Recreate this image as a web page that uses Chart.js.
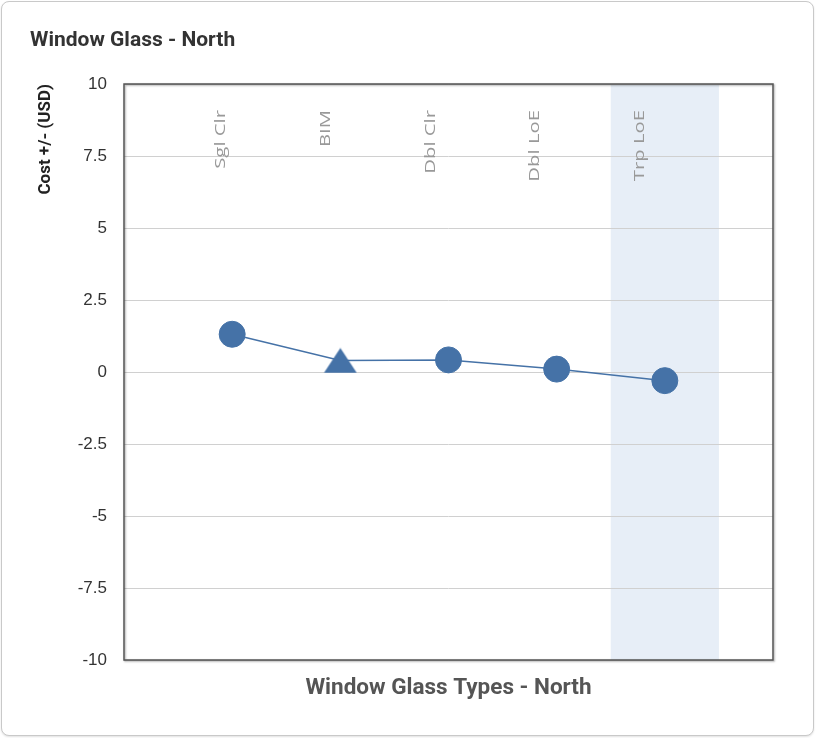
<!DOCTYPE html>
<html>
<head>
<meta charset="utf-8">
<title>Window Glass - North</title>
<script src="https://cdn.jsdelivr.net/npm/chart.js@4.4.1/dist/chart.umd.min.js"></script>
<style>
  html, body { margin: 0; padding: 0; background: #ffffff; }
  #wrap { position: relative; width: 816px; height: 738px; }
  #card {
    position: absolute; left: 1px; top: 1px; width: 813px; height: 735px;
    box-sizing: border-box; border: 1px solid #c9c9c9; border-radius: 8px;
    box-shadow: 0 1px 2px rgba(0,0,0,0.12); background: #fff;
  }
  #chart { position: absolute; left: 0; top: 0; }
</style>
</head>
<body>
<div id="wrap">
  <div id="card"></div>
  <canvas id="chart" width="816" height="738"></canvas>
</div>
<script>
// Glass options and their cost difference (USD)
const categories = ['Sgl Clr', 'BIM', 'Dbl Clr', 'Dbl LoE', 'Trp LoE'];
const costValues = [1.31, 0.40, 0.42, 0.10, -0.30];
const markerShapes = ['circle', 'triangle', 'circle', 'circle', 'circle'];
const yTickValues = [10, 7.5, 5, 2.5, 0, -2.5, -5, -7.5, -10];
const highlightedCategory = 'Trp LoE';

const SERIES_COLOR = '#4572A7';

// triangle marker drawn once and reused as a point style
function makeTriangle(w, h, color) {
  const c = document.createElement('canvas');
  c.width = w; c.height = h;
  const g = c.getContext('2d');
  g.fillStyle = color;
  g.beginPath();
  g.moveTo(w / 2, 0.5);
  g.lineTo(w - 0.5, h - 0.5);
  g.lineTo(0.5, h - 0.5);
  g.closePath();
  g.fill();
  return c;
}
const triangleMarker = makeTriangle(34, 26, SERIES_COLOR);

// shaded column behind the highlighted category
const highlightBand = {
  id: 'highlightBand',
  beforeDraw(chart) {
    const idx = categories.indexOf(highlightedCategory);
    if (idx < 0) return;
    const x = chart.scales.x, area = chart.chartArea, ctx = chart.ctx;
    const x0 = x.getPixelForValue(idx + 0.5);
    const x1 = x.getPixelForValue(idx + 1.5);
    ctx.save();
    ctx.fillStyle = '#e7eef7';
    ctx.fillRect(x0, area.top, x1 - x0, area.bottom - area.top);
    ctx.restore();
  }
};

// frame round the plot area plus the vertical category names inside it
const plotFrame = {
  id: 'plotFrame',
  afterDatasetsDraw(chart) {
    const ctx = chart.ctx, a = chart.chartArea;
    ctx.save();
    ctx.shadowColor = 'rgba(0,0,0,0.35)';
    ctx.shadowOffsetX = 1;
    ctx.shadowOffsetY = 1;
    ctx.shadowBlur = 2;
    ctx.strokeStyle = '#555555';
    ctx.lineWidth = 1.5;
    ctx.strokeRect(a.left, a.top, a.right - a.left, a.bottom - a.top);
    ctx.restore();

    const lx = chart.scales.labelAxis;
    ctx.save();
    ctx.fillStyle = '#999999';
    ctx.font = '14.5px "Open Sans", sans-serif';
    ctx.textAlign = 'right';
    ctx.textBaseline = 'middle';
    categories.forEach((name, i) => {
      ctx.save();
      ctx.translate(lx.getPixelForValue(i), a.top + 26);
      ctx.rotate(-Math.PI / 2);
      ctx.scale(1.4, 1);
      ctx.fillText(name, 0, 0);
      ctx.restore();
    });
    ctx.restore();
  }
};

new Chart(document.getElementById('chart'), {
  type: 'line',
  data: {
    datasets: [{
      label: 'Cost +/- (USD)',
      data: categories.map((c, i) => ({ x: i + 1, y: costValues[i] })),
      borderColor: SERIES_COLOR,
      backgroundColor: SERIES_COLOR,
      borderWidth: 1.5,
      pointStyle: markerShapes.map(s => s === 'triangle' ? triangleMarker : 'circle'),
      pointRadius: 13,
      pointBorderWidth: 1,
      pointBorderColor: SERIES_COLOR,
      pointBackgroundColor: SERIES_COLOR,
      tension: 0,
      clip: false
    }]
  },
  options: {
    responsive: false,
    animation: false,
    events: [],
    layout: { padding: { left: 30, right: 43, top: 0, bottom: 28 } },
    plugins: {
      legend: { display: false },
      tooltip: { enabled: false },
      title: {
        display: true,
        text: 'Window Glass - North',
        align: 'start',
        color: '#333333',
        font: { family: 'Roboto', size: 21, weight: '700', lineHeight: 1.2 },
        padding: { top: 28, bottom: 30.8 }
      }
    },
    scales: {
      x: {
        type: 'linear',
        min: 0,
        max: categories.length + 1,
        grid: { display: false },
        border: { display: false },
        ticks: { display: false },
        title: {
          display: true,
          text: 'Window Glass Types - North',
          color: '#555555',
          font: { family: 'Roboto', size: 22.5, weight: '700', lineHeight: 1.2 },
          padding: { top: 0, bottom: 8.5 }
        },
        afterFit(scale) { scale.height = 50; }
      },
      labelAxis: {
        type: 'linear',
        axis: 'x',
        position: 'bottom',
        display: false,
        min: -0.926,
        max: 5.27
      },
      y: {
        min: -10,
        max: 10,
        afterBuildTicks(scale) { scale.ticks = yTickValues.map(v => ({ value: v })); },
        grid: { color: '#d0d0d0', lineWidth: 1, drawTicks: false },
        border: { display: false },
        ticks: {
          color: '#333333',
          padding: 17,
          font: { family: '"Liberation Sans", Arial, sans-serif', size: 17 }
        },
        title: {
          display: true,
          text: 'Cost +/- (USD)',
          align: 'end',
          color: '#222222',
          font: { family: 'Roboto', size: 17, weight: '700', lineHeight: 1.2 },
          padding: { top: 6, bottom: 0 }
        },
        afterFit(scale) { scale.width = 94; }
      }
    }
  },
  plugins: [highlightBand, plotFrame]
});
</script>
</body>
</html>
